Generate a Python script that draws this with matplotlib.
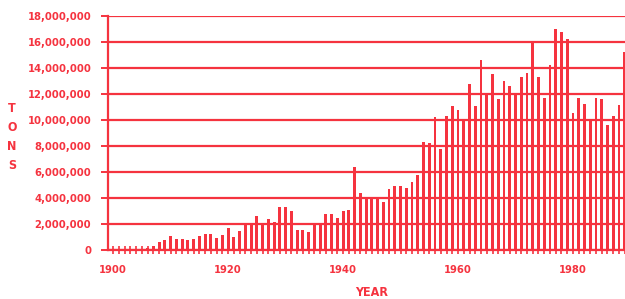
import matplotlib
matplotlib.use("Agg")
import matplotlib.pyplot as plt
from matplotlib.ticker import FuncFormatter, MultipleLocator

years = list(range(1900, 1990))
tons_millions = [
    0.05, 0.05, 0.05, 0.05, 0.08, 0.10, 0.15, 0.33, 0.60, 0.80,   # 1900-1909
    1.05, 0.85, 0.85, 0.77, 0.85, 1.05, 1.25, 1.25, 0.90, 1.15,   # 1910-1919
    1.68, 0.98, 1.45, 1.95, 2.03, 2.60, 2.00, 2.42, 2.18, 3.33,   # 1920-1929
    3.33, 3.00, 1.50, 1.50, 1.40, 2.00, 2.00, 2.80, 2.80, 2.45,   # 1930-1939
    3.00, 3.10, 6.36, 4.40, 3.90, 3.90, 3.90, 3.70, 4.67, 4.92,   # 1940-1949
    4.92, 4.80, 5.26, 5.77, 8.33, 8.26, 10.20, 7.80, 10.30, 11.10,  # 1950-1959
    10.80, 10.00, 12.80, 11.10, 14.60, 11.90, 13.50, 11.60, 13.00, 12.65,  # 1960-1969
    12.10, 13.30, 13.65, 16.00, 13.30, 11.70, 14.20, 17.00, 16.80, 16.20,  # 1970-1979
    10.50, 11.70, 11.20, 10.05, 11.70, 11.60, 9.65, 10.30, 11.15, 15.20,   # 1980-1989
]
tons = [v * 1e6 for v in tons_millions]
xtick_years = [1900, 1920, 1940, 1960, 1980]

RED = "#f5333f"
FONT = ["DejaVu Sans"]

fig = plt.figure(figsize=(6.25, 2.99), dpi=100)
ax = fig.add_axes([0.1728, 0.164, 0.8272, 0.7826])

ax.set_axisbelow(True)
ax.yaxis.grid(True, color=RED, linewidth=1.6)
ax.bar(years, tons, width=0.5, color=RED, linewidth=0)

ax.set_xlim(1899.1, 1989.05)
ax.set_ylim(0, 18e6)
ax.yaxis.set_major_locator(MultipleLocator(2e6))
ax.yaxis.set_major_formatter(FuncFormatter(lambda v, p: f"{int(round(v)):,}"))
ax.set_xticks(xtick_years)
ax.xaxis.set_minor_locator(MultipleLocator(1))

for s in ["top", "right"]:
    ax.spines[s].set_visible(False)
for s in ["left", "bottom"]:
    ax.spines[s].set_color(RED)
    ax.spines[s].set_linewidth(1.6)

ax.tick_params(axis="y", colors=RED, length=5, width=1.4, pad=7)
ax.tick_params(axis="x", which="major", colors=RED, length=6, width=1.2,
               direction="inout", pad=8)
ax.tick_params(axis="x", which="minor", colors=RED, length=6, width=1.2,
               direction="inout")

for lab in ax.get_yticklabels() + ax.get_xticklabels():
    lab.set_family(FONT)
    lab.set_fontweight("bold")
    lab.set_fontstretch("condensed")
    lab.set_fontsize(8)
    lab.set_color(RED)

fig.text(372 / 625, 1 - 292 / 299, "YEAR", ha="center", va="center",
         color=RED, family=FONT, fontweight="bold", fontstretch="condensed",
         fontsize=9)
fig.text(12 / 625, 1 - 137 / 299, "T\nO\nN\nS", ha="center", va="center",
         color=RED, family=FONT, fontweight="bold", fontstretch="condensed",
         fontsize=9, linespacing=1.6)

fig.savefig("out.png", dpi=100)
